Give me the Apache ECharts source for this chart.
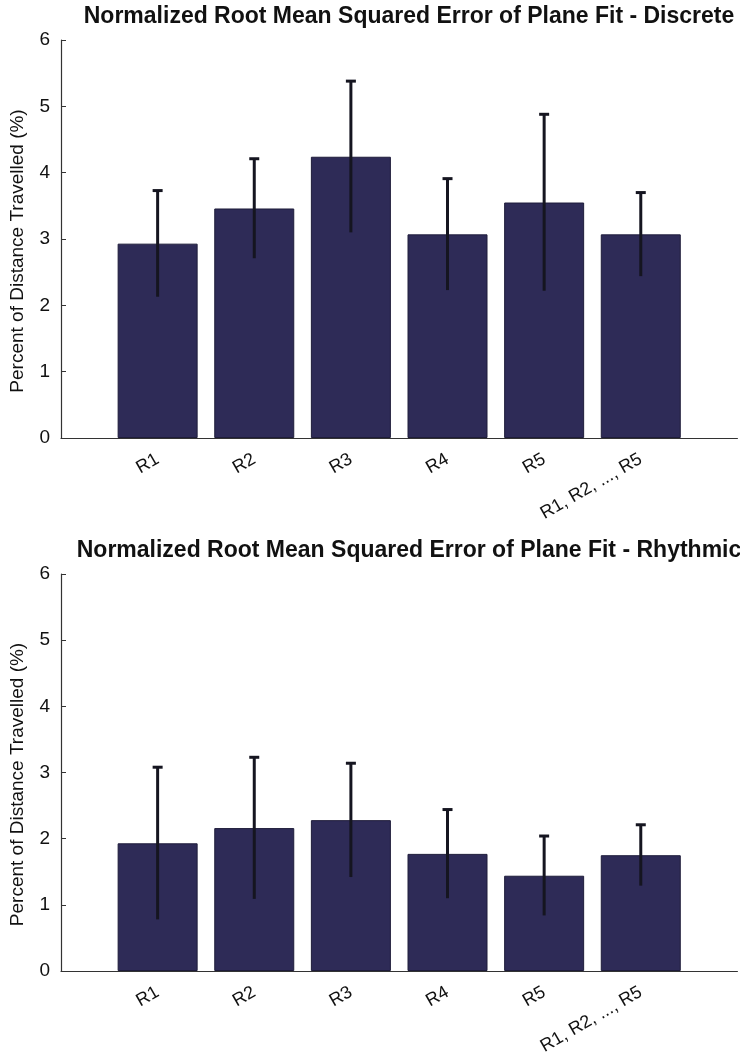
<!DOCTYPE html>
<html>
<head>
<meta charset="utf-8">
<script src="https://cdn.jsdelivr.net/npm/echarts@6/dist/echarts.min.js"></script>
<style>
html,body{margin:0;padding:0;background:#fff;}
#chart{width:740px;height:1063px;}
</style>
</head>
<body>
<div id="chart"></div>
<script>
var categories = ['R1', 'R2', 'R3', 'R4', 'R5', 'R1, R2, ..., R5'];
var discreteMean = [2.93, 3.46, 4.24, 3.07, 3.55, 3.07];
var discreteErr  = [0.80, 0.75, 1.14, 0.84, 1.33, 0.63];
var rhythmicMean = [1.93, 2.16, 2.28, 1.77, 1.44, 1.75];
var rhythmicErr  = [1.15, 1.07, 0.86, 0.67, 0.60, 0.46];
var yTicks = [0, 1, 2, 3, 4, 5, 6];
var titles = ['Normalized Root Mean Squared Error of Plane Fit - Discrete',
              'Normalized Root Mean Squared Error of Plane Fit - Rhythmic'];
var yName = 'Percent of Distance Travelled (%)';

var FONT = '"Liberation Sans", Arial, Helvetica, sans-serif';
var BAR = '#2e2b57';
var INK = '#151520';

var axisCats = [''].concat(categories, ['']);
function barData(m) { return [null].concat(m, [null]); }
function errData(m, e) {
  return m.map(function (v, i) { return [i + 1, v - e[i], v + e[i]]; });
}

function errRender(params, api) {
  var x = api.value(0);
  var lo = api.coord([x, api.value(1)]);
  var hi = api.coord([x, api.value(2)]);
  return {
    type: 'group',
    children: [
      { type: 'line', shape: { x1: hi[0], y1: lo[1], x2: hi[0], y2: hi[1] },
        style: { stroke: INK, lineWidth: 3 } },
      { type: 'line', shape: { x1: hi[0] - 5, y1: hi[1], x2: hi[0] + 5, y2: hi[1] },
        style: { stroke: INK, lineWidth: 3 } }
    ]
  };
}

var gridTops = [40, 574];
var gridH = [398, 397];

var option = {
  animation: false,
  backgroundColor: '#fff',
  title: titles.map(function (t, i) {
    return {
      text: t, left: 404, top: gridTops[i] - 40, textAlign: 'center',
      textStyle: { fontFamily: FONT, fontSize: 23, fontWeight: 'bold', color: '#111' }
    };
  }),
  grid: gridTops.map(function (t, i) {
    return { left: 61, right: -6, top: t, height: gridH[i], containLabel: false };
  }),
  xAxis: [0, 1].map(function (i) {
    return {
      type: 'category', gridIndex: i, data: axisCats, boundaryGap: false,
      axisLine: { show: true, lineStyle: { color: '#333', width: 1.2 } },
      axisTick: { show: false },
      axisLabel: {
        rotate: 30, margin: 20, interval: 0,
        fontFamily: FONT, fontSize: 18, color: '#111'
      },
      splitLine: { show: false }
    };
  }),
  yAxis: [0, 1].map(function (i) {
    return {
      type: 'value', gridIndex: i, min: yTicks[0], max: yTicks[yTicks.length - 1], interval: 1,
      name: yName, nameLocation: 'middle', nameGap: 34,
      nameTextStyle: { fontFamily: FONT, fontSize: 19, color: '#111', padding: [0, 24, 0, 0] },
      axisLine: { show: true, lineStyle: { color: '#333', width: 1.2 } },
      axisTick: { show: true, inside: true, length: 5, lineStyle: { color: '#333' } },
      axisLabel: { fontFamily: FONT, fontSize: 19, color: '#111', margin: 11 },
      splitLine: { show: false }
    };
  }),
  series: [
    { type: 'bar', xAxisIndex: 0, yAxisIndex: 0, data: barData(discreteMean), barWidth: 80,
      itemStyle: { color: BAR, borderColor: '#1e1c3a', borderWidth: 1 } },
    { type: 'custom', xAxisIndex: 0, yAxisIndex: 0, data: errData(discreteMean, discreteErr),
      renderItem: errRender, z: 5 },
    { type: 'bar', xAxisIndex: 1, yAxisIndex: 1, data: barData(rhythmicMean), barWidth: 80,
      itemStyle: { color: BAR, borderColor: '#1e1c3a', borderWidth: 1 } },
    { type: 'custom', xAxisIndex: 1, yAxisIndex: 1, data: errData(rhythmicMean, rhythmicErr),
      renderItem: errRender, z: 5 }
  ]
};

var chart = echarts.init(document.getElementById('chart'));
chart.setOption(option);
</script>
</body>
</html>
